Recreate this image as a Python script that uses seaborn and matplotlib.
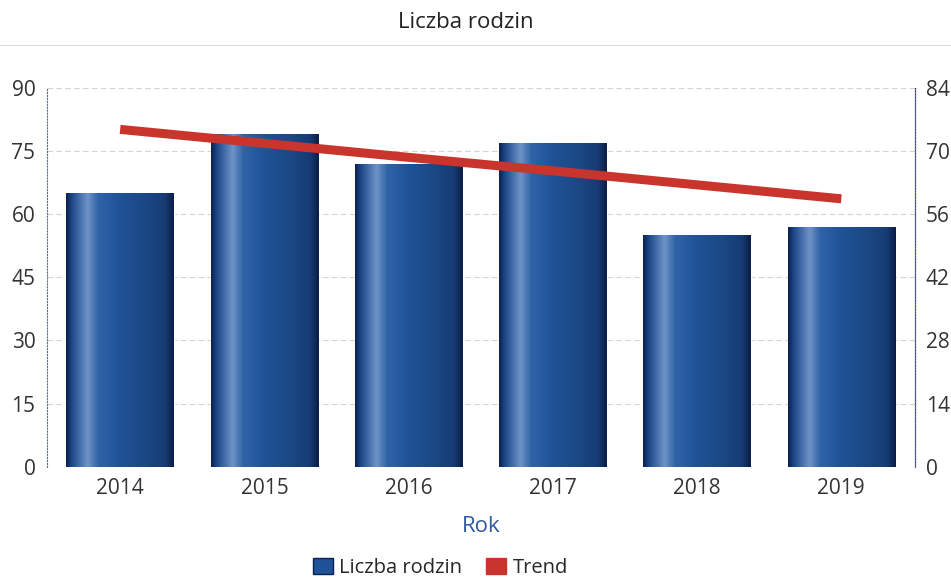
import numpy as np
import pandas as pd
import matplotlib
matplotlib.use("Agg")
import matplotlib.pyplot as plt
import seaborn as sns
from matplotlib.colors import LinearSegmentedColormap
from matplotlib.patches import Patch
from matplotlib.lines import Line2D

# dane
lata = ["2014", "2015", "2016", "2017", "2018", "2019"]
liczba_rodzin = [65, 79, 72, 77, 55, 57]
trend = [74.8, 71.7, 68.6, 65.6, 62.5, 59.4]
lewa_os = [0, 15, 30, 45, 60, 75, 90]
prawa_os = [0, 14, 28, 42, 56, 70, 84]

df = pd.DataFrame({"Rok": lata, "Liczba rodzin": liczba_rodzin, "Trend": trend})

sns.set_style("white")
plt.rcParams["font.family"] = ["Open Sans", "DejaVu Sans"]

fig = plt.figure(figsize=(9.51, 5.82), dpi=100)
ax = fig.add_axes([0.049, 0.198, 0.913, 0.651])

sns.barplot(data=df, x="Rok", y="Liczba rodzin", color="#1f4f8f", width=0.745,
            ax=ax, zorder=2)

# gradient "cylindra" na slupkach
cmap = LinearSegmentedColormap.from_list("cyl", [
    (0.0, "#0b2050"), (0.06, "#1f4c8c"), (0.2, "#6f93c8"), (0.3, "#2f63a8"),
    (0.5, "#1f5296"), (0.75, "#1b4784"), (0.92, "#163b72"), (1.0, "#0a1d48")])
grad = np.linspace(0, 1, 256).reshape(1, -1)
for p in ax.patches:
    x0, y0 = p.get_x(), p.get_y()
    w, h = p.get_width(), p.get_height()
    im = ax.imshow(grad, cmap=cmap, aspect="auto", extent=[x0, x0 + w, y0, y0 + h],
                   zorder=2.5)
    im.set_clip_path(p)

ax.set_xlim(-0.51, 5.51)
ax.set_ylim(0, 90)
ax.set_yticks(lewa_os)
ax.yaxis.grid(True, color="#d4d4d4", linestyle=(0, (5, 3)), linewidth=0.8)
ax.set_axisbelow(True)
ax.tick_params(axis="both", length=0, labelsize=15, colors="#333333", pad=8)
ax.set_xlabel("Rok", fontsize=16, color="#2f5aa0", labelpad=12)
ax.set_ylabel("")
for s in ["top", "bottom"]:
    ax.spines[s].set_visible(False)
ax.spines["left"].set_color("#5a6aa8")
ax.spines["left"].set_linestyle(":")

ax2 = ax.twinx()
sns.lineplot(data=df, x="Rok", y="Trend", color="#c9352c", linewidth=6.5,
             solid_capstyle="butt", ax=ax2)
ax2.set_ylim(0, 84)
ax2.set_yticks(prawa_os)
ax2.set_ylabel("")
ax2.tick_params(axis="y", length=0, labelsize=15, colors="#333333", pad=8)
for s in ["top", "bottom", "left"]:
    ax2.spines[s].set_visible(False)
ax2.spines["right"].set_color("#5a6aa8")
ax2.spines["right"].set_linestyle(":")
ax2.set_zorder(3)

fig.text(0.49, 0.962, "Liczba rodzin", ha="center", va="center", fontsize=16,
         color="#222222")
fig.add_artist(Line2D([0.0, 1.0], [0.922, 0.922], color="#dddddd", linewidth=0.8))

uchwyty = [Patch(facecolor="#1f5296", edgecolor="#0b2050"),
           Patch(facecolor="#c9352c", edgecolor="#c9352c")]
fig.legend(uchwyty, ["Liczba rodzin", "Trend"], loc="center", bbox_to_anchor=(0.463, 0.024),
           ncol=2, frameon=False, fontsize=14.5, handlelength=1.0, handleheight=0.8,
           handletextpad=0.3, columnspacing=1.2)

fig.savefig("out.png", dpi=100)
